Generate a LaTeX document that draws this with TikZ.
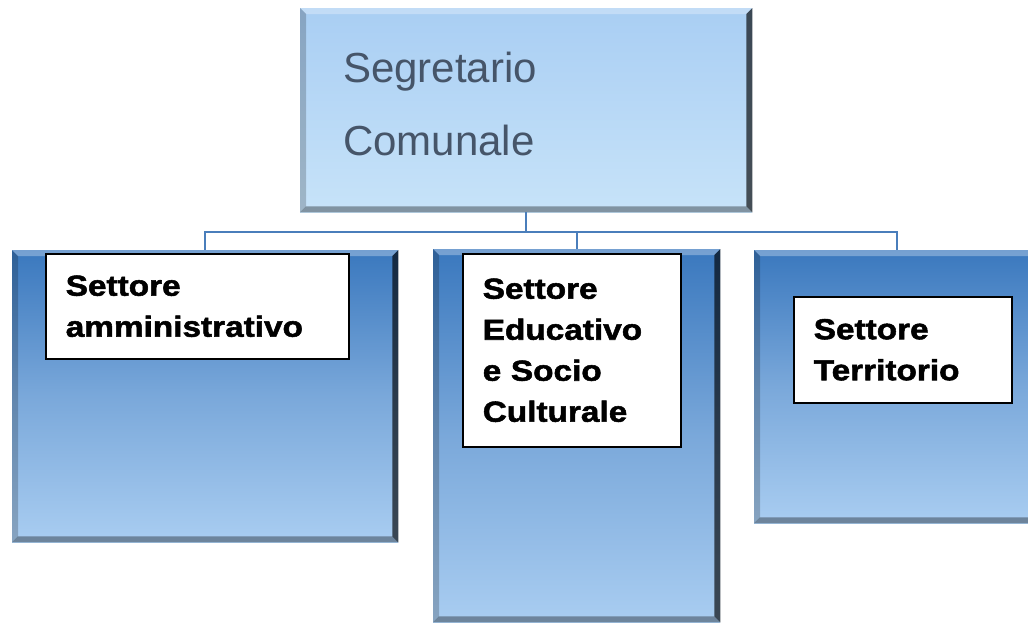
\documentclass[tikz,border=0pt]{standalone}
\usepackage{fontspec}
\setmainfont{Liberation Sans}
\newfontfamily\labelfont[FakeStretch=1.15,BoldFeatures={FakeBold=1.8}]{Liberation Sans}
\usetikzlibrary{calc,positioning}

\definecolor{deepblue}{HTML}{3A78BE}
\definecolor{midblue}{HTML}{7AA8DA}
\definecolor{paleblue}{HTML}{A9CDF1}
\definecolor{topblue}{HTML}{A9CEF3}
\definecolor{lowblue}{HTML}{C7E3F9}
\definecolor{linkblue}{HTML}{4A7EBB}
\definecolor{headtext}{HTML}{465569}

\tikzset{
  headbox/.style={anchor=north west, inner xsep=43pt, inner ysep=0pt,
    top color=topblue, bottom color=lowblue, text=headtext, align=left,
    font=\fontsize{42}{73}\selectfont},
  sector/.style={anchor=north west, inner sep=0pt,
    top color=deepblue, bottom color=paleblue, middle color=midblue},
  labelbox/.style={anchor=north west, draw=black, line width=1.5pt, fill=white,
    inner xsep=20pt, inner ysep=0pt, align=left,
    font=\labelfont\bfseries\fontsize{29}{41}\selectfont},
  link/.style={draw=linkblue, line width=2pt},
}

% bevelled edges round a box
\newcommand{\bevel}[2]{%
  \fill[white,opacity=.3] (#1.north west) -- (#1.north east) -- ($(#1.north east)+(-#2,#2)$) -- ($(#1.north west)+(#2,#2)$) -- cycle;
  \fill[black,opacity=.2] (#1.north west) -- ($(#1.north west)+(#2,#2)$) -- ($(#1.south west)+(#2,-#2)$) -- (#1.south west) -- cycle;
  \fill[black,opacity=.65] (#1.north east) -- ($(#1.north east)+(-#2,#2)$) -- ($(#1.south east)+(-#2,-#2)$) -- (#1.south east) -- cycle;
  \fill[black,opacity=.35] (#1.south west) -- ($(#1.south west)+(#2,-#2)$) -- ($(#1.south east)+(-#2,-#2)$) -- (#1.south east) -- cycle;
}

\begin{document}
\begin{tikzpicture}[x=1pt,y=1pt,yscale=-1,xscale=1]
  \useasboundingbox (0,0) rectangle (1028,632);

  % head of the chart
  \node[headbox, minimum width=452pt, minimum height=204pt, text width=366pt, text depth=86pt] (head) at (300,8) {Segretario\\Comunale};
  \bevel{head}{6}

  % the three sectors
  \node[sector, minimum width=386pt, minimum height=292pt] (sa) at (12,250) {};
  \node[sector, minimum width=287pt, minimum height=373pt] (se) at (433,249) {};
  \node[sector, minimum width=286pt, minimum height=273pt] (st) at (754,250) {};
  \bevel{sa}{6}
  \bevel{se}{6}
  \bevel{st}{6}

  % connectors
  \coordinate (bus) at ($(head.south)+(0,20)$);
  \draw[link] (head.south) -- (bus);
  \draw[link] (bus) -| (sa.north);
  \draw[link] (bus) -| (se.north);
  \draw[link] (bus) -| (st.north);

  % labels
  \node[labelbox, text width=263pt, minimum height=105pt] (saname) at (45,253) {Settore\\amministrativo};
  \node[labelbox, text width=178pt, minimum height=193pt] (sename) at (462,253) {Settore\\Educativo\\e Socio\\Culturale};
  \node[labelbox, text width=178pt, minimum height=106pt] (stname) at (793,296) {Settore\\Territorio};

\end{tikzpicture}
\end{document}
